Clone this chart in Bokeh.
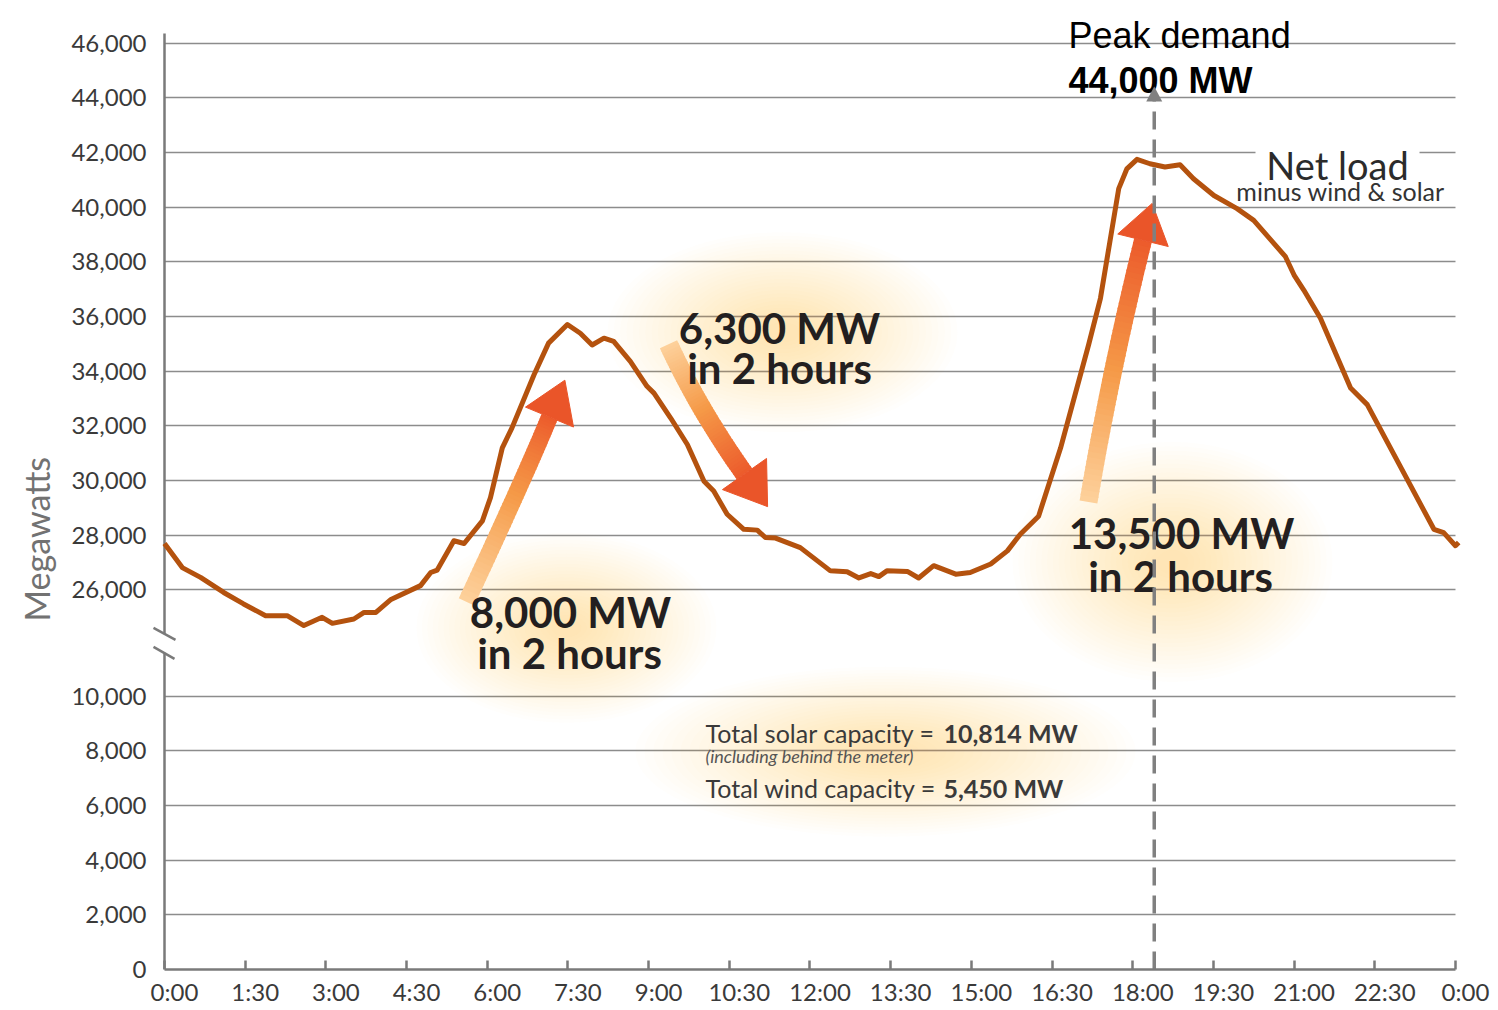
import numpy as np
from bokeh.plotting import figure
from bokeh.models import Range1d, FixedTicker, LinearAxis, Title
from bokeh.core.properties import value
from bokeh.embed import file_html
from bokeh.resources import INLINE

# ---------------- data ----------------
HOURS = [0.00, 0.33, 0.67, 1.10, 1.47, 1.88, 2.28, 2.59, 2.93, 3.12, 3.52, 3.71, 3.93, 4.20,
         4.76, 4.95, 5.07, 5.38, 5.57, 5.91, 6.06, 6.28, 6.46, 6.87, 7.14, 7.49, 7.73, 7.95,
         8.17, 8.35, 8.66, 8.97, 9.10, 9.41, 9.72, 10.03, 10.21, 10.46, 10.77, 11.02, 11.17,
         11.36, 11.82, 12.38, 12.69, 12.91, 13.13, 13.28, 13.43, 13.81, 14.02, 14.30, 14.71,
         14.98, 15.36, 15.67, 15.91, 16.25, 16.66, 17.18, 17.40, 17.74, 17.89, 18.08, 18.32,
         18.60, 18.88, 19.13, 19.51, 19.94, 20.25, 20.84, 21.00, 21.18, 21.49, 22.05, 22.36,
         23.60, 23.78, 24.00, 24.06]
NET_LOAD_MW = [27700, 26820, 26460, 25910, 25490, 25060, 25060, 24700, 25000, 24780, 24940,
               25180, 25180, 25640, 26160, 26640, 26730, 27800, 27700, 28530, 29380, 31200,
               31930, 33870, 35030, 35710, 35390, 34960, 35210, 35090, 34360, 33450, 33200,
               32290, 31320, 29980, 29620, 28770, 28220, 28190, 27920, 27900, 27550, 26700,
               26670, 26440, 26600, 26490, 26700, 26680, 26440, 26890, 26580, 26640, 26950,
               27430, 28040, 28700, 31200, 34970, 36670, 40680, 41400, 41750, 41590, 41470,
               41550, 41040, 40430, 39950, 39520, 38190, 37520, 36970, 35940, 33390, 32780,
               28220, 28100, 27620, 27740]
Y_TICK_VALUES = [0, 2000, 4000, 6000, 8000, 10000, 26000, 28000, 30000, 32000, 34000,
                 36000, 38000, 40000, 42000, 44000, 46000]
X_TICK_HOURS = [0, 1.5, 3, 4.5, 6, 7.5, 9, 10.5, 12, 13.5, 15, 16.5, 18, 19.5, 21, 22.5, 24]
X_TICK_LABELS = ["0:00", "1:30", "3:00", "4:30", "6:00", "7:30", "9:00", "10:30", "12:00",
                 "13:30", "15:00", "16:30", "18:00", "19:30", "21:00", "22:30", "0:00"]
PEAK_HOUR = 18.4
PEAK_DEMAND_MW = 44000

# ---------------- broken axis mapping ----------------
LOW_MAX, HIGH_MIN, GAP = 10000, 26000, 3880
SHIFT = HIGH_MIN - LOW_MAX - GAP


def ymap(v):
    return v if v <= LOW_MAX else v - SHIFT


# helpers for annotation placement (reference-pixel layout)
RX0, RPXH = 164.0, 53.79
RY0, RPY = 970.0, 0.02737


def hx(px):
    return (px - RX0) / RPXH


def vy(py):
    return (RY0 - py) / RPY


X0, X1 = hx(150), hx(1470)
Y1 = vy(8)
FONT = "Lato"
GRID = "#8c8c8c"
AXC = "#7a7a7a"
TXT = "#3a3a3a"

p = figure(width=1496, height=1008, x_range=Range1d(X0, X1), y_range=Range1d(0, Y1),
           output_backend="svg", toolbar_location=None,
           min_border_left=150, min_border_right=26, min_border_top=8, min_border_bottom=38)
p.outline_line_color = None
p.background_fill_color = "white"
p.border_fill_color = "white"

# ---------------- axes ----------------
ytick_pos = [int(ymap(v)) for v in Y_TICK_VALUES]
p.yaxis.ticker = FixedTicker(ticks=ytick_pos)
p.yaxis.major_label_overrides = {int(ymap(v)): f"{v:,}" for v in Y_TICK_VALUES}
p.yaxis.axis_line_color = None
p.yaxis.major_tick_in = 0
p.yaxis.major_tick_out = 0
p.yaxis.minor_tick_line_color = None
p.yaxis.major_label_standoff = 4
p.yaxis.major_label_text_font = FONT
p.yaxis.major_label_text_font_size = "24px"
p.yaxis.major_label_text_color = TXT

# axis title, placed over the upper part like the original
p.add_layout(Title(text="Megawatts", align="left", offset=348, standoff=24,
                   text_font=FONT, text_font_size="34px", text_font_style="normal",
                   text_color="#727272"), "left")

p.xaxis.ticker = FixedTicker(ticks=X_TICK_HOURS)
p.xaxis.bounds = (0, 24)
p.xaxis.axis_line_color = AXC
p.xaxis.axis_line_width = 2.5
p.xaxis.major_tick_line_color = AXC
p.xaxis.major_tick_line_width = 2.5
p.xaxis.major_tick_in = 9
p.xaxis.major_tick_out = 0
p.xaxis.minor_tick_line_color = None
p.xaxis.major_label_text_color = None
p.xaxis.major_label_text_font_size = "1px"
p.xaxis.major_label_standoff = 0

LAB_OFF = 10 / RPXH
p.extra_x_ranges = {"lab": Range1d(X0 - LAB_OFF, X1 - LAB_OFF)}
lab_axis = LinearAxis(x_range_name="lab", ticker=FixedTicker(ticks=X_TICK_HOURS),
                      major_label_overrides={t: l for t, l in zip(X_TICK_HOURS, X_TICK_LABELS)},
                      axis_line_color=None, major_tick_in=0, major_tick_out=0,
                      minor_tick_line_color=None, major_label_standoff=7,
                      major_label_text_font=FONT, major_label_text_font_size="24px",
                      major_label_text_color=TXT)
p.add_layout(lab_axis, "below")

# grid
p.xgrid.visible = False
g = p.ygrid[0]
g.ticker = FixedTicker(ticks=ytick_pos)
g.grid_line_color = GRID
g.grid_line_width = 1.7
if "cross_bounds" in g.properties():
    g.cross_bounds = (0, 24)

# y axis line with break
p.segment(x0=[0, 0], y0=[0, vy(634)], x1=[0, 0], y1=[vy(653), vy(33)],
          line_color=AXC, line_width=2.5)
p.segment(x0=[hx(153), hx(153)], y0=[vy(628), vy(647)], x1=[hx(175), hx(174)],
          y1=[vy(640), vy(659)], line_color=AXC, line_width=2.5)


# ---------------- glows ----------------
def glow(cx, cy, rx, ry, n=26, alpha=0.016, color="#f8a85a"):
    s = np.linspace(1.0, 0.1, n)
    p.ellipse(x=[hx(cx)] * n, y=[vy(cy)] * n, width=list(2 * rx * s), height=list(2 * ry * s),
              width_units="screen", height_units="screen",
              fill_color=color, fill_alpha=alpha, line_color=None)


glow(566, 628, 150, 95)
glow(782, 332, 175, 100)
glow(1172, 562, 160, 120)
glow(885, 752, 250, 85)

# white gap around "Net load"
p.quad(left=[hx(1255)], right=[hx(1419)], bottom=[vy(159)], top=[vy(145)],
       fill_color="white", line_color=None)

# ---------------- data line ----------------
p.line(x=HOURS, y=[ymap(v) for v in NET_LOAD_MW], line_color="#b4520e", line_width=5,
       line_join="round")


# ---------------- gradient arrows ----------------
def hex2rgb(h):
    h = h.lstrip("#")
    return np.array([int(h[i:i + 2], 16) for i in (0, 2, 4)], dtype=float)


def ramp(stops, t):
    cs = [hex2rgb(c) for c in stops]
    k = len(cs) - 1
    out = []
    for tt in t:
        f = tt * k
        i = min(int(f), k - 1)
        w = f - i
        c = cs[i] * (1 - w) + cs[i + 1] * w
        out.append("#%02x%02x%02x" % tuple(int(round(v)) for v in c))
    return out


def grad_arrow(P0, P1, P2, body_w, head_len, head_hw, stops, head_col):
    P0, P1, P2 = (np.array(P, dtype=float) for P in (P0, P1, P2))
    n = 48
    t = np.linspace(0, 1, n + 1)[:, None]
    pts = (1 - t) ** 2 * P0 + 2 * (1 - t) * t * P1 + t ** 2 * P2
    a = pts[:-1]
    b = pts[1:] + 0.3 * (pts[1:] - pts[:-1])
    b[-1] = pts[-1]
    cols = ramp(stops, np.linspace(0, 1, n))
    p.segment(x0=[hx(v) for v in a[:, 0]], y0=[vy(v) for v in a[:, 1]],
              x1=[hx(v) for v in b[:, 0]], y1=[vy(v) for v in b[:, 1]],
              line_color=cols, line_width=body_w, line_cap="butt")
    u = (P2 - P1) / np.linalg.norm(P2 - P1)
    perp = np.array([-u[1], u[0]])
    tip = P2 + head_len * u
    b1 = P2 + head_hw * perp
    b2 = P2 - head_hw * perp
    p.patch(x=[hx(b1[0]), hx(tip[0]), hx(b2[0])], y=[vy(b1[1]), vy(tip[1]), vy(b2[1])],
            fill_color=head_col, line_color=head_col, line_width=1)


STOPS = ["#fdd09a", "#f59a48", "#ec5c2c"]
HEAD = "#ea5529"
grad_arrow((466, 602), (522, 482), (549, 417), 17, 40, 26, STOPS, HEAD)
grad_arrow((668, 344), (698, 409), (744, 474), 19, 40, 27, STOPS, HEAD)
grad_arrow((1088, 502), (1110, 371), (1142.5, 240), 18, 38, 26, STOPS, HEAD)


# ---------------- texts ----------------
def txt(px, py, s, size, style="normal", color="#231f20", align="center", font=FONT):
    p.text(x=[hx(px)], y=[vy(py)], text=[s], text_font=value(font), text_font_size=size,
           text_font_style=style, text_color=color, text_align=align,
           text_baseline="alphabetic")


txt(570, 612, "8,000 MW", "42px", "bold")
txt(569, 653, "in 2 hours", "42px", "bold")
txt(779, 328, "6,300 MW", "42px", "bold")
txt(779, 368, "in 2 hours", "42px", "bold")
txt(1181, 533, "13,500 MW", "42px", "bold")
txt(1180, 576, "in 2 hours", "42px", "bold")

txt(1337, 165, "Net load", "38px", "normal", "#2b2b2b")
txt(1340, 191, "minus wind & solar", "25px", "normal", "#333333")

txt(705, 733, "Total solar capacity =", "25px", "normal", TXT, "left")
txt(943, 733, "10,814 MW", "25px", "bold", TXT, "left")
txt(705, 756, "(including behind the meter)", "18px", "italic", "#555555", "left")
txt(705, 788, "Total wind capacity =", "25px", "normal", TXT, "left")
txt(943, 788, "5,450 MW", "25px", "bold", TXT, "left")

txt(1068, 35, "Peak demand", "36px", "normal", "#000000", "left", "Liberation Sans")
txt(1068, 80, f"{PEAK_DEMAND_MW:,} MW", "36px", "bold", "#000000", "left", "Liberation Sans")

# ---------------- peak demand marker ----------------
p.segment(x0=[PEAK_HOUR], y0=[0], x1=[PEAK_HOUR], y1=[vy(100)], line_color="#808080",
          line_width=3.5, line_dash="18 10")
p.patch(x=[PEAK_HOUR - 8 / RPXH, PEAK_HOUR, PEAK_HOUR + 8 / RPXH],
        y=[vy(101), vy(86), vy(101)], fill_color="#808080", line_color=None)

open("out.html", "w").write(file_html(p, INLINE))
